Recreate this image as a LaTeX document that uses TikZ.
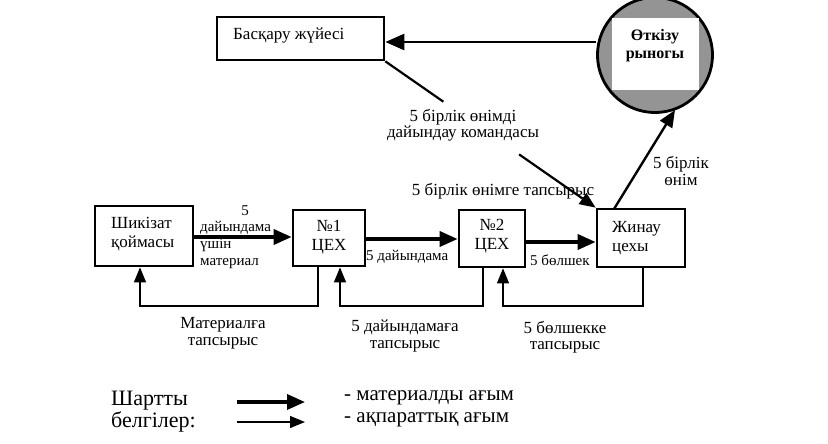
\documentclass[tikz,border=0pt]{standalone}
\usepackage{fontspec}
\setmainfont{Liberation Serif}
\usetikzlibrary{arrows.meta,calc}
\begin{document}
\begin{tikzpicture}[x=1pt,y=-1pt,
  box/.style={draw,line width=2.7pt,inner sep=0pt},
  matflow/.style={line width=3.6pt,-{Triangle[length=18pt,width=15pt]}},
  infoflow/.style={line width=1.2pt,-{Triangle[length=15pt,width=12pt]}},
  cmdline/.style={line width=2.2pt},
  lbl/.style={font=\fontsize{17}{16.5}\selectfont,align=center,inner sep=0pt},
  small/.style={font=\fontsize{15}{17}\selectfont,inner sep=0pt},
  boxtxt/.style={font=\fontsize{17}{19}\selectfont,inner sep=0pt,align=center},
  leg/.style={font=\fontsize{22}{22}\selectfont,inner sep=0pt,anchor=west}]
\useasboundingbox (0,0) rectangle (828,444);
% boxes
\node[box,minimum width=167pt,minimum height=43pt] (bas) at (300.5,38.5) {};
\node[boxtxt,anchor=west] (bast) at (233,36) {Басқару жүйесі};
\node[box,minimum width=98pt,minimum height=60pt] (shi) at (144,236) {};
\node[boxtxt,align=left,anchor=west] (shit) at (111,234) {Шикізат\\қоймасы};
\node[box,minimum width=72pt,minimum height=56pt] (c1) at (329,238) {};
\node[boxtxt] (c1t) at (329,237) {№1\\ЦЕХ};
\node[box,minimum width=66pt,minimum height=57pt] (c2) at (492,238.5) {};
\node[boxtxt] (c2t) at (492,236) {№2\\ЦЕХ};
\node[box,minimum width=88pt,minimum height=58pt] (jin) at (641,238) {};
\node[boxtxt,align=left,anchor=west] (jint) at (612,238) {Жинау\\цехы};
% market circle
\node[circle,draw,line width=2.8pt,fill=black!42,minimum size=115pt,inner sep=0pt] (mkt) at (655,55) {};
\node[fill=white,minimum width=87pt,minimum height=72pt,inner sep=0pt] (sq) at (655.5,54) {};
\node[boxtxt,font=\fontsize{16}{18}\selectfont\bfseries] (mktt) at (655,46) {Өткізу\\рыногы};
% market -> control
\draw[line width=2.6pt,-{Triangle[length=19pt,width=16pt]}] (mkt.west|-0,42) -- (bas.east|-0,42);
% control command line
\coordinate (g1) at ($(bas.south east)!0.276!(jin.north west)$);
\coordinate (g2) at ($(bas.south east)!0.636!(jin.north west)$);
\draw[cmdline] (bas.south east) -- (g1);
\node[lbl] (cmd) at (463,125) {5 бірлік өнімді\\дайындау командасы};
\node[lbl] (ord) at (503,191) {5 бірлік өнімге тапсырыс};
\draw[cmdline,-{Triangle[length=16pt,width=13pt]}] (g2) -- (jin.north west);
% assembly -> market
\coordinate (js) at (614,209);
\coordinate (mk) at (675,110);
\draw[line width=2.4pt,-{Triangle[length=17pt,width=14pt]}] (js) -- (mk);
% material flows
\draw[matflow] (shi.east|-0,237) -- (c1.west|-0,237);
\draw[matflow] (c1.east|-0,239) -- (c2.west|-0,239);
\draw[matflow] (c2.east|-0,242) -- (jin.west|-0,242);
\node[small] (l5) at (245,211) {5};
\node[small,anchor=west,align=left] (lmat) at (200,245) {дайындама\\үшін\\материал};
\node[small,anchor=west] (l5d) at (366,257) {5 дайындама};
\node[small,anchor=west] (l5b) at (530,260) {5 бөлшек};
% info flows
\coordinate (f1) at (318,306);
\coordinate (f1b) at (140,306);
\draw[infoflow] (c1.south-|f1) -- (f1) -- (f1b) -- (shi.south-|f1b);
\coordinate (f2) at (483,306);
\coordinate (f2b) at (340,306);
\draw[infoflow] (c2.south-|f2) -- (f2) -- (f2b) -- (c1.south-|f2b);
\coordinate (f3) at (643,306);
\coordinate (f3b) at (503,306);
\draw[infoflow] (jin.south-|f3) -- (f3) -- (f3b) -- (c2.south-|f3b);
\node[lbl] (o1) at (223,333) {Материалға\\тапсырыс};
\node[lbl] (o2) at (405,336) {5 дайындамаға\\тапсырыс};
\node[lbl] (o3) at (565,337) {5 бөлшекке\\тапсырыс};
\node[lbl] (pr) at (681,171) {5 бірлік\\өнім};
% legend
\node[leg] (lg1) at (111,401) {Шартты};
\node[leg] (lg2) at (111,422) {белгілер:};
\coordinate (a1s) at (237,402);
\coordinate (a1e) at (305,402);
\coordinate (a2s) at (237,422);
\coordinate (a2e) at (305,422);
\draw[line width=3.4pt,-{Triangle[length=18pt,width=15pt]}] (a1s) -- (a1e);
\draw[line width=1.3pt,-{Triangle[length=15pt,width=12pt]}] (a2s) -- (a2e);
\node[leg,font=\fontsize{21}{21}\selectfont] (lt1) at (344,398) {- материалды ағым};
\node[leg,font=\fontsize{21}{21}\selectfont] (lt2) at (344,420) {- ақпараттық ағым};
\end{tikzpicture}
\end{document}
